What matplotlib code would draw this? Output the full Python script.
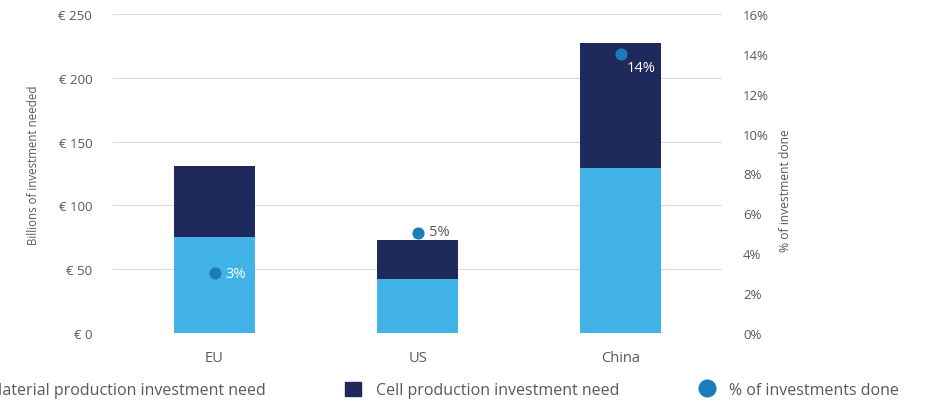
import matplotlib
matplotlib.use("Agg")
import matplotlib.pyplot as plt
from matplotlib.lines import Line2D
from matplotlib.patches import Patch

categories = ["EU", "US", "China"]
material_need = [75, 42, 129]
cell_need = [56, 31, 98]
pct_done = [3, 5, 14]
pct_labels = ["3%", "5%", "14%"]
left_ticks = [0, 50, 100, 150, 200, 250]
left_ticklabels = ["€ 0", "€ 50", "€ 100", "€ 150", "€ 200", "€ 250"]
right_ticks = [0, 2, 4, 6, 8, 10, 12, 14, 16]
right_ticklabels = ["0%", "2%", "4%", "6%", "8%", "10%", "12%", "14%", "16%"]

light = "#41b3e6"
navy = "#1f2a5c"
dot = "#1a7dba"
txt = "#595959"

plt.rcParams['font.family'] = ['Open Sans', 'DejaVu Sans']

fig = plt.figure(figsize=(9.26, 4.02), dpi=100)
ax = fig.add_axes([0.122, 0.169, 0.658, 0.794])
x = list(range(len(categories)))
ax.bar(x, material_need, width=0.4, color=light, zorder=2)
ax.bar(x, cell_need, width=0.4, bottom=material_need, color=navy, zorder=2)
ax.set_xlim(-0.5, 2.5)
ax.set_ylim(0, 250)
ax.set_yticks(left_ticks)
ax.set_yticklabels(left_ticklabels, fontsize=9.5, color=txt)
ax.set_xticks(x)
ax.set_xticklabels(categories, fontsize=10.5, color=txt)
ax.tick_params(length=0, pad=15)
ax.tick_params(axis='x', pad=12)
ax.grid(axis='y', color="#d9d9d9", linewidth=0.8, zorder=0)
for s in ax.spines.values():
    s.set_visible(False)
ax.set_ylabel("Billions of investment needed", fontsize=8.3, color=txt)
ax.yaxis.set_label_coords(-0.12, 0.53)

ax2 = ax.twinx()
ax2.set_ylim(0, 16)
ax2.set_yticks(right_ticks)
ax2.set_yticklabels(right_ticklabels, fontsize=9.5, color=txt)
ax2.tick_params(length=0, pad=15)
for s in ax2.spines.values():
    s.set_visible(False)
ax2.scatter(x, pct_done, s=60, color=dot, zorder=5)
ax2.set_ylabel("% of investment done", fontsize=8.7, color=txt)
ax2.yaxis.set_label_coords(1.093, 0.45)

label_colors = ["white", txt, "white"]
offsets = [(8, 0), (8, 1), (4, -10)]
for xi, p, lab, c, off in zip(x, pct_done, pct_labels, label_colors, offsets):
    ax2.annotate(lab, (xi, p), xytext=off, textcoords="offset points",
                 ha="left", va="center", fontsize=10.5, color=c, zorder=6)

handles = [Patch(color=light), Patch(color=navy),
           Line2D([], [], marker='o', linestyle='none', color=dot, markersize=12)]
labels = ["Material production investment need", "Cell production investment need",
          "% of investments done"]
fig.legend(handles, labels, loc="center left", bbox_to_anchor=(-0.046, 0.027),
           ncol=3, frameon=False, fontsize=11.5, labelcolor=txt,
           borderpad=0, borderaxespad=0,
           handlelength=1.0, handleheight=1.0, columnspacing=5.0, handletextpad=0.9)

fig.savefig("out.png", dpi=100)
